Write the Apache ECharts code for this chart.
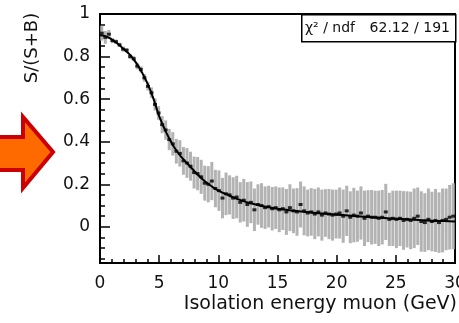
<!DOCTYPE html>
<html>
<head>
<meta charset="utf-8">
<script src="https://cdn.jsdelivr.net/npm/echarts@6/dist/echarts.min.js"></script>
<style>
  html, body { margin: 0; padding: 0; background: #fff; }
  #chart { width: 459px; height: 323px; }
</style>
</head>
<body>
<div id="chart"></div>
<script>
// histogram bins: 100 bins of 0.3 GeV from 0 to 30
const binStart = 0
const binWidth = 0.3

// S/(S+B) per bin
const ratio = [
  0.91, 0.89, 0.905, 0.875, 0.87, 0.855, 0.835, 0.83, 0.80, 0.79,
  0.755, 0.74, 0.70, 0.66, 0.63, 0.575, 0.535, 0.48, 0.455, 0.41,
  0.39, 0.355, 0.345, 0.31, 0.30, 0.285, 0.255, 0.25, 0.235, 0.205,
  0.20, 0.215, 0.18, 0.17, 0.135, 0.155, 0.15, 0.135, 0.14, 0.115,
  0.125, 0.105, 0.115, 0.08, 0.105, 0.10, 0.09, 0.095, 0.085, 0.09,
  0.08, 0.085, 0.07, 0.09, 0.075, 0.07, 0.105, 0.075, 0.065, 0.07,
  0.06, 0.07, 0.055, 0.065, 0.06, 0.055, 0.06, 0.065, 0.05, 0.075,
  0.045, 0.055, 0.05, 0.065, 0.04, 0.05, 0.045, 0.045, 0.04, 0.045,
  0.07, 0.035, 0.04, 0.035, 0.04, 0.03, 0.035, 0.03, 0.04, 0.05,
  0.025, 0.02, 0.035, 0.025, 0.03, 0.02, 0.03, 0.035, 0.045, 0.05
]

// statistical error per bin (half length of grey bars)
const ratioErr = [
  0.035, 0.03, 0.02, 0.012, 0.01, 0.01, 0.012, 0.01, 0.012, 0.012,
  0.015, 0.014, 0.018, 0.02, 0.025, 0.028, 0.032, 0.04, 0.045, 0.05,
  0.055, 0.058, 0.062, 0.065, 0.07, 0.068, 0.075, 0.078, 0.08, 0.082,
  0.085, 0.09, 0.088, 0.095, 0.095, 0.1, 0.092, 0.098, 0.1, 0.095,
  0.1, 0.105, 0.098, 0.1, 0.095, 0.105, 0.1, 0.098, 0.102, 0.1,
  0.105, 0.1, 0.108, 0.11, 0.105, 0.112, 0.108, 0.115, 0.11, 0.112,
  0.118, 0.115, 0.12, 0.112, 0.118, 0.12, 0.115, 0.12, 0.125, 0.118,
  0.122, 0.128, 0.12, 0.125, 0.13, 0.122, 0.128, 0.125, 0.13, 0.128,
  0.132, 0.125, 0.13, 0.135, 0.13, 0.138, 0.132, 0.135, 0.14, 0.135,
  0.142, 0.138, 0.145, 0.14, 0.148, 0.142, 0.15, 0.145, 0.152, 0.155
]

// fitted curve
const fitX = [0, 0.5, 1, 1.5, 2, 2.5, 3, 3.5, 4, 4.5, 5, 5.5, 6, 6.5, 7, 7.5, 8, 8.5, 9, 9.5,
  10, 11, 12, 13, 14, 15, 16, 17, 18, 19, 20, 21, 22, 23, 24, 25, 26, 27, 28, 29, 30]
const fitY = [0.90, 0.895, 0.88, 0.86, 0.835, 0.81, 0.775, 0.73, 0.675, 0.605, 0.52, 0.455, 0.40, 0.355, 0.32, 0.29, 0.26, 0.232, 0.208, 0.188,
  0.17, 0.145, 0.123, 0.107, 0.094, 0.085, 0.078, 0.072, 0.066, 0.061, 0.057, 0.053, 0.049, 0.045, 0.041, 0.038, 0.035, 0.032, 0.029, 0.027, 0.025]

const xTicks = { min: 0, max: 30, interval: 5 }
const yRange = { min: -0.17, max: 1 }
const fitLabel = 'χ² / ndf'
const fitValue = '62.12 / 191'

const font = '"DejaVu Sans", Arial, sans-serif'

const binCenter = i => binStart + (i + 0.5) * binWidth
const points = ratio.map((v, i) => [binCenter(i), v])
const errBars = ratio.map((v, i) => [binCenter(i), v - ratioErr[i], v + ratioErr[i]])
const fitData = fitX.map((x, i) => [x, fitY[i]])

const chart = echarts.init(document.getElementById('chart'), null, { renderer: 'canvas' })

chart.setOption({
  animation: false,
  backgroundColor: '#fff',
  grid: {
    left: 100, right: 4, top: 14, bottom: 60,
    outerBoundsMode: 'none', containLabel: false,
    show: true, borderColor: '#000', borderWidth: 2, backgroundColor: 'transparent'
  },
  xAxis: {
    type: 'value',
    min: xTicks.min, max: xTicks.max, interval: xTicks.interval,
    name: 'Isolation energy muon (GeV)',
    nameLocation: 'end',
    nameGap: 2,
    nameTextStyle: { color: '#111', fontFamily: font, fontSize: 19, align: 'right', verticalAlign: 'top', padding: [32, 0, 0, 0] },
    axisLine: { onZero: false, lineStyle: { color: '#000', width: 2 } },
    axisTick: { inside: true, length: 8, lineStyle: { color: '#000', width: 1.5 } },
    minorTick: { show: true, splitNumber: 5, length: 4, lineStyle: { color: '#000', width: 1.5 } },
    axisLabel: { color: '#111', fontFamily: font, fontSize: 17, margin: 12 },
    splitLine: { show: false }
  },
  yAxis: {
    type: 'value',
    min: yRange.min, max: yRange.max, splitNumber: 6,
    axisLine: { onZero: false, lineStyle: { color: '#000', width: 2 } },
    axisTick: { inside: true, length: 10, lineStyle: { color: '#000', width: 1.5 } },
    minorTick: { show: true, splitNumber: 4, length: 5, lineStyle: { color: '#000', width: 1.5 } },
    axisLabel: { color: '#111', fontFamily: font, fontSize: 17, margin: 10, showMinLabel: false },
    splitLine: { show: false }
  },
  series: [
    {
      type: 'custom',
      name: 'errors',
      data: errBars,
      clip: true,
      z: 1,
      renderItem: (params, api) => {
        const lo = api.coord([api.value(0), api.value(1)])
        const hi = api.coord([api.value(0), api.value(2)])
        return {
          type: 'rect',
          shape: { x: lo[0] - 1.5, y: hi[1], width: 3, height: lo[1] - hi[1] },
          style: { fill: '#b3b3b3' }
        }
      }
    },
    {
      type: 'line',
      name: 'fit',
      data: fitData,
      smooth: true,
      showSymbol: false,
      lineStyle: { color: '#000', width: 2 },
      z: 2
    },
    {
      type: 'scatter',
      name: 'data',
      data: points,
      symbol: 'rect',
      symbolSize: [4, 3],
      itemStyle: { color: '#000' },
      z: 3
    }
  ],
  graphic: [
    // fit statistics box
    {
      type: 'rect', left: 301, top: 14, z: 10,
      shape: { width: 154, height: 27 },
      style: { fill: '#fff', stroke: '#000', lineWidth: 1.5 }
    },
    {
      type: 'text', x: 305, y: 28, z: 11,
      style: { text: fitLabel, fontFamily: font, fontSize: 14, fill: '#111', verticalAlign: 'middle' }
    },
    {
      type: 'text', x: 450, y: 28, z: 11,
      style: { text: fitValue, fontFamily: font, fontSize: 14, fill: '#111', align: 'right', verticalAlign: 'middle' }
    },
    // y axis title
    {
      type: 'text', x: 32, y: 48, rotation: Math.PI / 2,
      style: { text: 'S/(S+B)', fontFamily: font, fontSize: 18, fill: '#111', align: 'center', verticalAlign: 'middle' }
    },
    // orange pointer arrow
    {
      type: 'polygon',
      shape: { points: [[-4, 137], [23, 137], [23, 117], [53, 152], [23, 188], [23, 170], [-4, 170]] },
      style: { fill: '#ff6a00', stroke: '#cc0000', lineWidth: 4, lineJoin: 'miter' }
    }
  ]
})
</script>
</body>
</html>
